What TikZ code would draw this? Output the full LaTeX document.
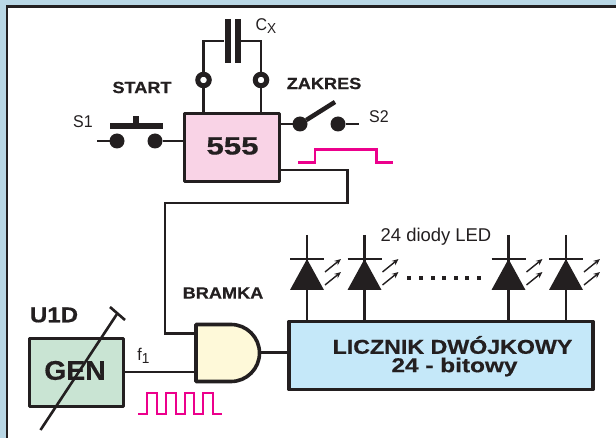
\documentclass[tikz,border=0pt]{standalone}
\usepackage{fontspec}
\setmainfont{Liberation Sans}
\newfontfamily\heavy[FakeBold=0.5]{Liberation Sans Bold}
\usetikzlibrary{arrows.meta}
\definecolor{ink}{HTML}{231F20}
\definecolor{frameblue}{HTML}{B9D7E5}
\definecolor{pinkfill}{HTML}{F9D3E6}
\definecolor{magentaline}{HTML}{EC008C}
\definecolor{yellowfill}{HTML}{FEF9D9}
\definecolor{greenfill}{HTML}{C9E4D3}
\definecolor{bluefill}{HTML}{C5E8F9}
\tikzset{
  wire/.style={draw=ink,line width=2.1pt},
  thickbox/.style={draw=ink,line width=3.6pt,line join=round,inner sep=0pt,outer sep=0pt,anchor=north west},
  dot/.style={circle,fill=ink,draw=none,minimum size=15pt,inner sep=0pt,outer sep=0pt},
  ring/.style={circle,fill=white,draw=ink,line width=5pt,minimum size=11.5pt,inner sep=0pt,outer sep=2.5pt},
  pulse/.style={draw=magentaline,line width=2.2pt},
  lab/.style={text=ink,font=\fontsize{17}{18}\selectfont,inner sep=0pt,xscale=.94,transform shape},
  boldlab/.style={text=ink,font=\fontsize{16.2}{17}\heavy,inner sep=0pt,xscale=1.12,transform shape},
  ledarrow/.style={draw=ink,line width=1.4pt,-{Stealth[length=6.5pt,width=5.5pt]}},
  led/.pic={
    \fill[ink] (0,0) -- (-17,31) -- (17,31) -- cycle;
    \draw[ink,line width=2.6pt] (-17,0) -- (17,0);
    \draw[ink,line width=2.6pt] (0,-24) -- (0,61);
    \draw[ledarrow] (18,13) -- (34,0);
    \draw[ledarrow] (18,26) -- (34,13);
  }
}
\begin{document}
\begin{tikzpicture}[x=1pt,y=-1pt]
\useasboundingbox (0,0) rectangle (616,438);
\fill[frameblue] (0,0) rectangle (616,438);
\fill[white] (7,6.5) rectangle (616,438);
\draw[ink,line width=2.4pt] (7,438) -- (7,6.5) -- (616,6.5);

\node[thickbox,fill=pinkfill,minimum width=95pt,minimum height=68pt] (timer) at (184.5,113.5) {};
\node[text=ink,font=\fontsize{25}{25}\heavy,inner sep=0pt,xscale=1.25,transform shape] (timerlabel) at (232.5,146) {555};

% capacitor
\node[ring] (ca) at (203.5,80) {};
\node[ring] (cb) at (261,80) {};
\coordinate (cal) at (224,41);
\coordinate (cbl) at (240,41);
\draw[wire] (ca.north) -- (ca.north |- cal) -- (cal);
\draw[wire] (cb.north) -- (cb.north |- cbl) -- (cbl);
\fill[ink] (224.5,19.5) rectangle (231,63.5);
\fill[ink] (234.5,19.5) rectangle (240.5,63.5);
\draw[wire] (ca.south) -- (ca.south |- timer.north);
\draw[wire] (cb.south) -- (cb.south |- timer.north);
\node[lab] (cxlabel) at (266,26) {C\raisebox{-3.5pt}{\fontsize{14.5}{15}\selectfont X}};

% S1
\node[boldlab] (startlabel) at (142,87.5) {START};
\node[lab] (s1label) at (83,122) {S1};
\node[dot] (s1a) at (117,141) {};
\node[dot] (s1b) at (155,141) {};
\coordinate (s1in) at (97,141);
\draw[wire] (s1in) -- (s1a);
\draw[wire] (s1b) -- (timer.west |- s1b);
\fill[ink] (110,123.5) rectangle (162.5,129.5);
\fill[ink] (133,116) rectangle (139,125);

% S2
\node[boldlab] (zakreslabel) at (324,83.5) {ZAKRES};
\node[lab] (s2label) at (379,116.5) {S2};
\node[dot] (s2a) at (300,124) {};
\node[dot] (s2b) at (338,124) {};
\coordinate (s2out) at (359,124);
\coordinate (s2tip) at (335,102);
\draw[wire] (timer.east |- s2a) -- (s2a);
\draw[ink,line width=4.5pt] (s2a) -- (s2tip);
\draw[wire] (s2b) -- (s2out);
\draw[pulse] (298,162.5) -- (315,162.5) -- (315,149.5) -- (376.5,149.5) -- (376.5,162.5) -- (393,162.5);

% gate
\path[fill=yellowfill,draw=ink,line width=3.6pt,line join=round] (196,324.5) -- (231,324.5) arc[start angle=90,end angle=-90,radius=28.5pt] -- (196,381.5) -- cycle;
\coordinate (gatein1) at (196,333.5);
\coordinate (gatein2) at (196,372);
\coordinate (gateout) at (260,352.5);
\node[boldlab] (bramkalabel) at (223,293) {BRAMKA};

% timer to gate
\draw[wire] (timer.east |- 0,170) -- (347.5,170) -- (347.5,203) -- (165,203) -- (165,333.5) -- (gatein1);

% GEN
\node[thickbox,fill=greenfill,minimum width=94pt,minimum height=68pt] (gen) at (29.5,338.5) {};
\node[text=ink,font=\fontsize{27}{28}\heavy,inner sep=0pt,xscale=1.05,transform shape] (genlabel) at (75,370.5) {GEN};
\node[text=ink,font=\fontsize{21.5}{22}\heavy,inner sep=0pt,xscale=1.12,transform shape] (u1dlabel) at (54,315) {U1D};
\coordinate (slasha) at (40.5,430);
\coordinate (slashb) at (117,314);
\coordinate (teea) at (110,307);
\coordinate (teeb) at (125,320);
\draw[ink,line width=2.6pt] (slasha) -- (slashb);
\draw[ink,line width=2.6pt] (teea) -- (teeb);
\draw[wire] (gen.east |- gatein2) -- (gatein2);
\node[lab] (f1label) at (143.5,356) {f\raisebox{-3.5pt}{\fontsize{14.5}{15}\selectfont 1}};
\draw[pulse] (138,414) -- (147,414) -- (147,393) -- (157,393) -- (157,414) -- (166,414) -- (166,393) -- (176,393) -- (176,414) -- (185,414) -- (185,393) -- (194,393) -- (194,414) -- (203,414) -- (203,393) -- (213,393) -- (213,414) -- (222,414);

% counter
\node[thickbox,fill=bluefill,minimum width=304pt,minimum height=68pt] (counter) at (289,321.5) {};
\draw[wire] (gateout) -- (counter.west |- gateout);
\node[text=ink,font=\fontsize{20}{20}\heavy,inner sep=0pt,xscale=1.16,transform shape] (countera) at (452.5,345) {LICZNIK DWÓJKOWY};
\node[text=ink,font=\fontsize{20}{20}\heavy,inner sep=0pt,xscale=1.22,transform shape] (counterb) at (454.5,367) {24 - bitowy};

% LEDs
\pic at (307,259) {led};
\pic at (364.5,259) {led};
\pic at (508.5,259) {led};
\pic at (566,259) {led};
\node[lab,font=\fontsize{18.5}{19}\selectfont,xscale=1.06] (ledlabel) at (436,237) {24 diody LED};
\foreach \dx in {409,420.5,432.5,444,455.5,467,478.5}
  \fill[ink] (\dx-2,275.8) rectangle (\dx+2,280.2);
\end{tikzpicture}
\end{document}
